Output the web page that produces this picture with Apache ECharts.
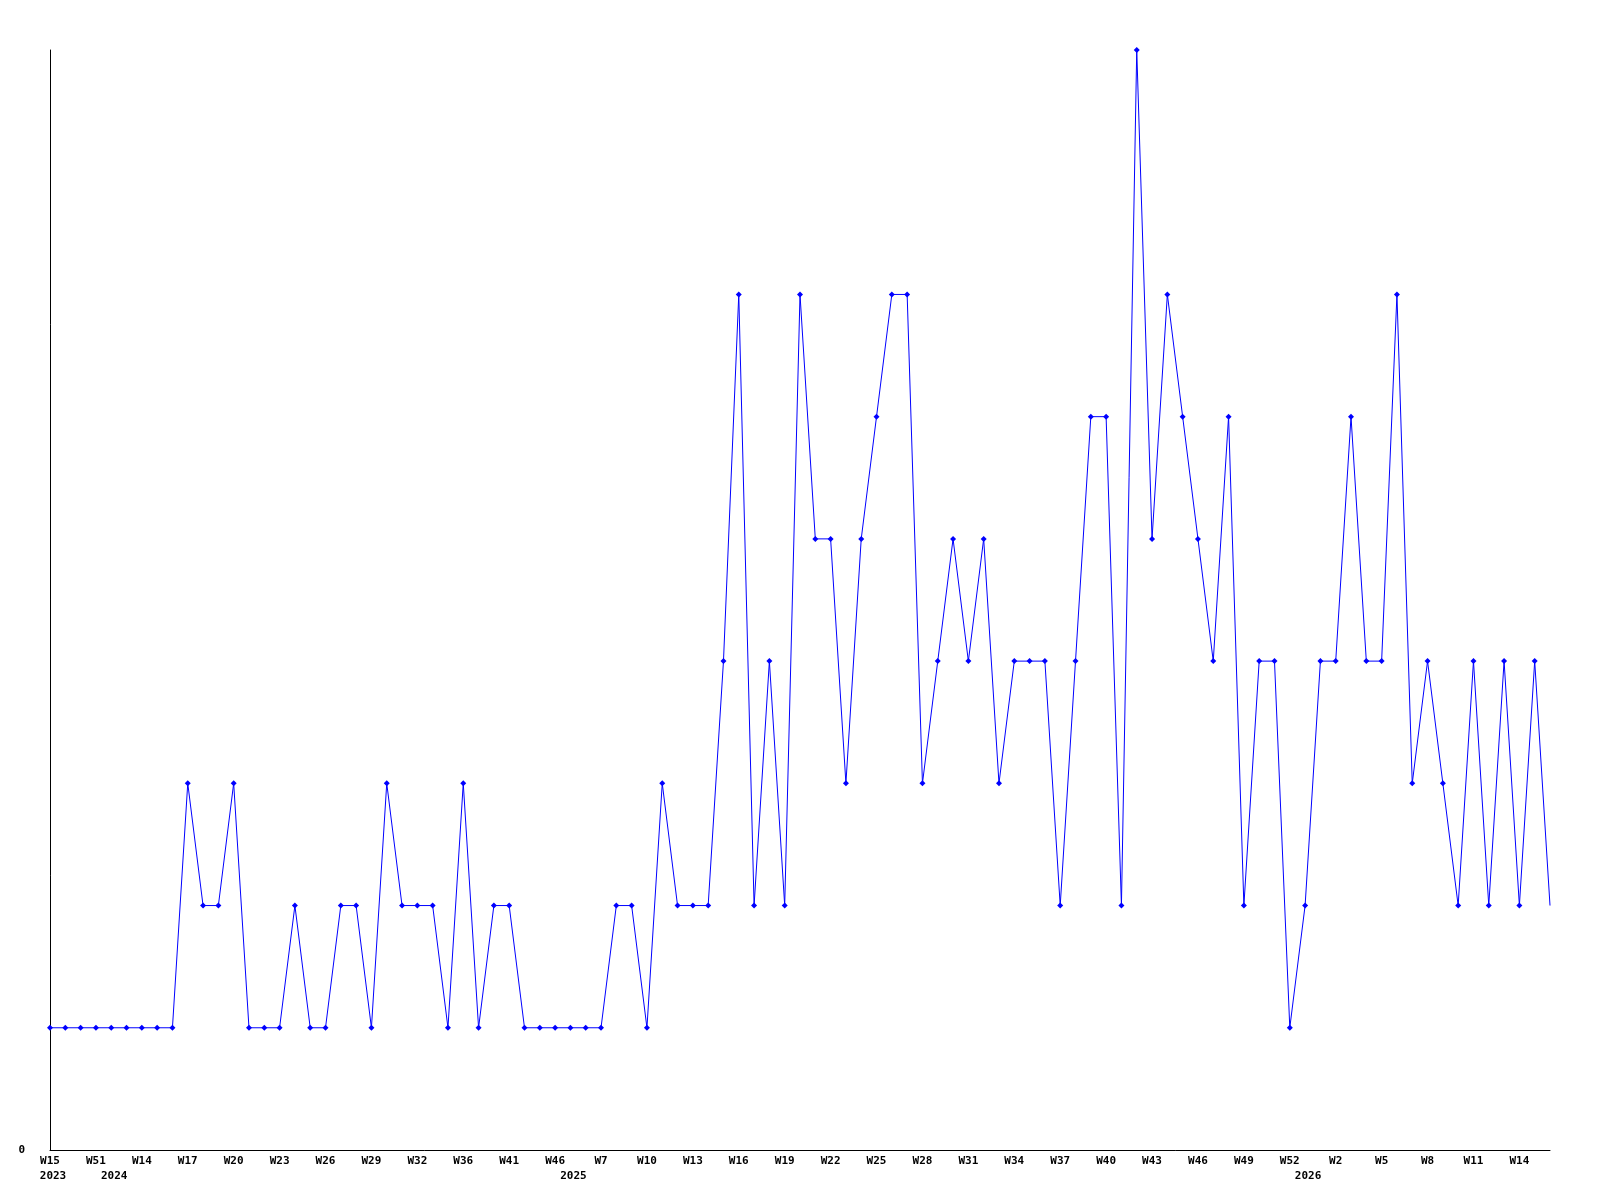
<!DOCTYPE html>
<html>
<head>
<meta charset="utf-8">
<script src="https://cdn.jsdelivr.net/npm/echarts@6/dist/echarts.min.js"></script>
<style>
html,body{margin:0;padding:0;background:#fff;}
#chart{width:1600px;height:1200px;}
</style>
</head>
<body>
<div id="chart"></div>
<script>
// Weekly values, one per point (99 points)
const values = [
  1,1,1,1,1,1,1,1,1,3,
  2,2,3,1,1,1,2,1,1,2,
  2,1,3,2,2,2,1,3,1,2,
  2,1,1,1,1,1,1,2,2,1,
  3,2,2,2,4,7,2,4,2,7,
  5,5,3,5,6,7,7,3,4,5,
  4,5,3,4,4,4,2,4,6,6,
  2,9,5,7,6,5,4,6,2,4,
  4,1,2,4,4,6,4,4,7,3,
  4,3,2,4,2,4,2,4,2
];
// Week tick labels, shown on every third point
const tickLabels = [
  'W15','W51','W14','W17','W20','W23','W26','W29','W32','W36','W41','W46',
  'W7','W10','W13','W16','W19','W22','W25','W28','W31','W34','W37','W40',
  'W43','W46','W49','W52','W2','W5','W8','W11','W14'
];
const tickStep = 3;
// Year labels: point index where each year begins
const yearIndex = [0, 4, 34, 82];
const yearLabels = ['2023', '2024', '2025', '2026'];

const categories = values.map((_, i) => String(i));
const seriesData = values.map((v, i) => i === values.length - 1 ? {value: v, symbol: 'none'} : v);

const font = {fontFamily: 'DejaVu Sans Mono', fontWeight: 'bold', fontSize: 11, color: '#000'};

const chart = echarts.init(document.getElementById('chart'), null, {renderer: 'canvas'});
chart.setOption({
  backgroundColor: '#ffffff',
  animation: false,
  grid: {left: 50, right: 50, top: 50, bottom: 50, containLabel: false},
  xAxis: [
    {
      type: 'category',
      data: categories,
      boundaryGap: false,
      position: 'bottom',
      axisLine: {show: true, onZero: false, lineStyle: {color: '#000', width: 1}},
      axisTick: {show: false},
      splitLine: {show: false},
      axisLabel: Object.assign({
        interval: tickStep - 1,
        margin: 6,
        formatter: (v) => {
          const i = Number(v);
          return i % tickStep === 0 ? (tickLabels[i / tickStep] || '') : '';
        }
      }, font)
    },
    {
      type: 'category',
      data: categories,
      boundaryGap: false,
      position: 'bottom',
      offset: 15,
      axisLine: {show: false},
      axisTick: {show: false},
      splitLine: {show: false},
      axisLabel: Object.assign({
        interval: (idx) => yearIndex.indexOf(idx) >= 0,
        margin: 6,
        padding: [0, 0, 0, 6],
        formatter: (v) => {
          const k = yearIndex.indexOf(Number(v));
          return k >= 0 ? yearLabels[k] : '';
        }
      }, font)
    }
  ],
  yAxis: {
    type: 'value',
    min: 0,
    max: 9,
    interval: 9,
    axisLine: {show: true, lineStyle: {color: '#000', width: 1}},
    axisTick: {show: false},
    splitLine: {show: false},
    axisLabel: Object.assign({
      margin: 25,
      formatter: (v) => v === 0 ? '0' : ''
    }, font)
  },
  series: [{
    type: 'line',
    xAxisIndex: 0,
    data: seriesData,
    symbol: 'diamond',
    symbolSize: 6,
    showAllSymbol: true,
    lineStyle: {color: '#0000ff', width: 1},
    itemStyle: {color: '#0000ff'},
    emphasis: {disabled: true}
  }]
});
</script>
</body>
</html>
